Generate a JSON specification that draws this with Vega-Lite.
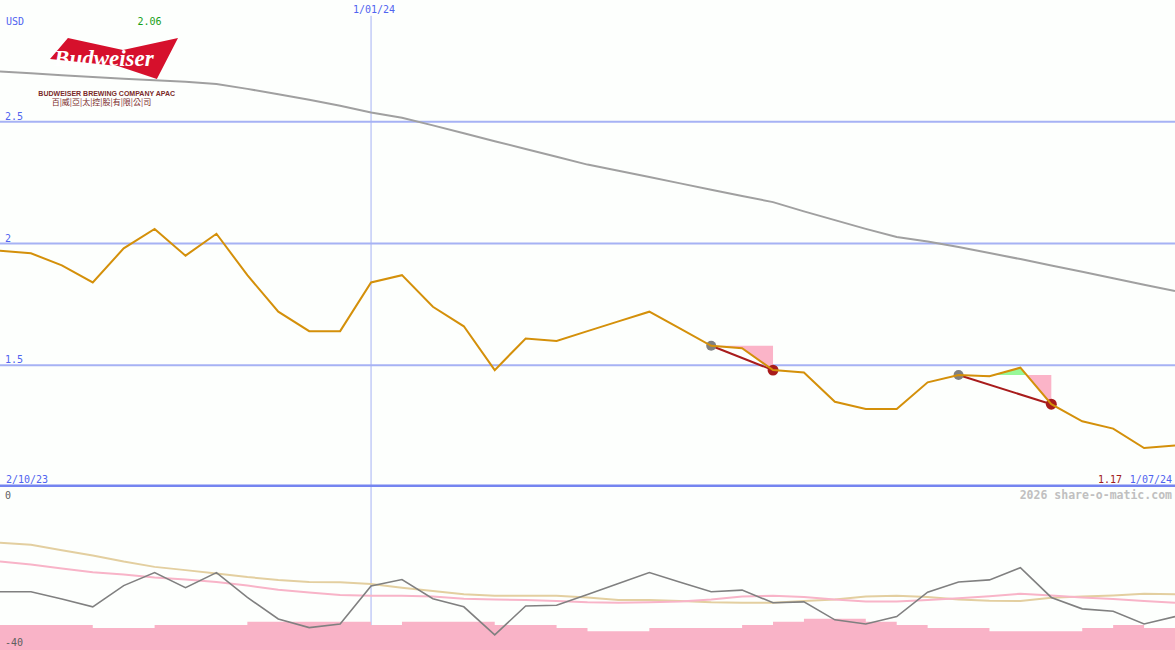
{
  "$schema": "https://vega.github.io/schema/vega-lite/v6.json",
  "background": "#fdfffd",
  "padding": 0,
  "spacing": 0,
  "bounds": "flush",
  "config": {
    "view": {"stroke": null},
    "text": {"font": "DejaVu Sans Mono", "fontSize": 10}
  },
  "datasets": {
    "weeks": [
      {"i": 0, "date": "2023-10-02", "price": 1.97, "ma": 2.706, "osc": -25.7, "s1": -13.7, "s2": -18.3, "vol": 8},
      {"i": 1, "date": "2023-10-09", "price": 1.96, "ma": 2.699, "osc": -25.7, "s1": -14.2, "s2": -19.0, "vol": 8},
      {"i": 2, "date": "2023-10-16", "price": 1.91, "ma": 2.691, "osc": -27.5, "s1": -15.5, "s2": -20.0, "vol": 8},
      {"i": 3, "date": "2023-10-23", "price": 1.84, "ma": 2.684, "osc": -29.4, "s1": -16.8, "s2": -20.9, "vol": 7},
      {"i": 4, "date": "2023-10-30", "price": 1.98, "ma": 2.677, "osc": -24.2, "s1": -18.3, "s2": -21.5, "vol": 7},
      {"i": 5, "date": "2023-11-06", "price": 2.06, "ma": 2.670, "osc": -21.0, "s1": -19.6, "s2": -22.2, "vol": 8},
      {"i": 6, "date": "2023-11-13", "price": 1.95, "ma": 2.664, "osc": -24.7, "s1": -20.4, "s2": -22.7, "vol": 8},
      {"i": 7, "date": "2023-11-20", "price": 2.04, "ma": 2.655, "osc": -21.0, "s1": -21.2, "s2": -23.3, "vol": 8},
      {"i": 8, "date": "2023-11-27", "price": 1.87, "ma": 2.635, "osc": -27.1, "s1": -22.1, "s2": -24.2, "vol": 9},
      {"i": 9, "date": "2023-12-04", "price": 1.72, "ma": 2.613, "osc": -32.4, "s1": -22.8, "s2": -25.2, "vol": 9},
      {"i": 10, "date": "2023-12-11", "price": 1.64, "ma": 2.590, "osc": -34.5, "s1": -23.3, "s2": -25.9, "vol": 9},
      {"i": 11, "date": "2023-12-18", "price": 1.64, "ma": 2.566, "osc": -33.6, "s1": -23.4, "s2": -26.5, "vol": 9},
      {"i": 12, "date": "2024-01-01", "price": 1.84, "ma": 2.538, "osc": -24.3, "s1": -23.8, "s2": -26.7, "vol": 8},
      {"i": 13, "date": "2024-01-08", "price": 1.87, "ma": 2.516, "osc": -22.7, "s1": -24.7, "s2": -26.7, "vol": 9},
      {"i": 14, "date": "2024-01-15", "price": 1.74, "ma": 2.485, "osc": -27.4, "s1": -25.5, "s2": -26.9, "vol": 9},
      {"i": 15, "date": "2024-01-22", "price": 1.66, "ma": 2.453, "osc": -29.4, "s1": -26.3, "s2": -27.4, "vol": 9},
      {"i": 16, "date": "2024-01-29", "price": 1.48, "ma": 2.420, "osc": -36.3, "s1": -26.7, "s2": -27.6, "vol": 8},
      {"i": 17, "date": "2024-02-05", "price": 1.61, "ma": 2.388, "osc": -29.2, "s1": -26.7, "s2": -27.7, "vol": 8},
      {"i": 18, "date": "2024-02-12", "price": 1.60, "ma": 2.356, "osc": -29.0, "s1": -26.7, "s2": -28.0, "vol": 7},
      {"i": 19, "date": "2024-02-19", "price": 1.64, "ma": 2.324, "osc": -26.4, "s1": -27.1, "s2": -28.3, "vol": 6},
      {"i": 20, "date": "2024-02-26", "price": 1.68, "ma": 2.299, "osc": -23.7, "s1": -27.7, "s2": -28.4, "vol": 6},
      {"i": 21, "date": "2024-03-04", "price": 1.72, "ma": 2.273, "osc": -21.0, "s1": -27.7, "s2": -28.3, "vol": 7},
      {"i": 22, "date": "2024-03-11", "price": 1.65, "ma": 2.247, "osc": -23.4, "s1": -28.0, "s2": -28.1, "vol": 7},
      {"i": 23, "date": "2024-03-18", "price": 1.58, "ma": 2.221, "osc": -25.7, "s1": -28.3, "s2": -27.6, "vol": 7},
      {"i": 24, "date": "2024-03-25", "price": 1.57, "ma": 2.195, "osc": -25.3, "s1": -28.4, "s2": -26.9, "vol": 8},
      {"i": 25, "date": "2024-04-01", "price": 1.48, "ma": 2.170, "osc": -28.4, "s1": -28.4, "s2": -26.7, "vol": 9},
      {"i": 26, "date": "2024-04-08", "price": 1.47, "ma": 2.132, "osc": -28.2, "s1": -28.0, "s2": -27.0, "vol": 10},
      {"i": 27, "date": "2024-04-15", "price": 1.35, "ma": 2.096, "osc": -32.6, "s1": -27.6, "s2": -27.6, "vol": 10},
      {"i": 28, "date": "2024-04-22", "price": 1.32, "ma": 2.060, "osc": -33.6, "s1": -26.9, "s2": -28.1, "vol": 9},
      {"i": 29, "date": "2024-04-29", "price": 1.32, "ma": 2.027, "osc": -31.8, "s1": -26.7, "s2": -28.1, "vol": 8},
      {"i": 30, "date": "2024-05-06", "price": 1.43, "ma": 2.008, "osc": -25.8, "s1": -27.0, "s2": -27.7, "vol": 7},
      {"i": 31, "date": "2024-05-13", "price": 1.46, "ma": 1.986, "osc": -23.3, "s1": -27.6, "s2": -27.3, "vol": 7},
      {"i": 32, "date": "2024-05-20", "price": 1.455, "ma": 1.961, "osc": -22.8, "s1": -27.9, "s2": -26.8, "vol": 6},
      {"i": 33, "date": "2024-05-27", "price": 1.49, "ma": 1.936, "osc": -19.8, "s1": -28.0, "s2": -26.2, "vol": 6},
      {"i": 34, "date": "2024-06-03", "price": 1.34, "ma": 1.910, "osc": -27.1, "s1": -27.2, "s2": -26.6, "vol": 6},
      {"i": 35, "date": "2024-06-10", "price": 1.27, "ma": 1.884, "osc": -29.9, "s1": -26.9, "s2": -27.1, "vol": 7},
      {"i": 36, "date": "2024-06-17", "price": 1.24, "ma": 1.857, "osc": -30.5, "s1": -26.6, "s2": -27.5, "vol": 8},
      {"i": 37, "date": "2024-06-24", "price": 1.16, "ma": 1.831, "osc": -33.6, "s1": -26.2, "s2": -28.0, "vol": 7},
      {"i": 38, "date": "2024-07-01", "price": 1.17, "ma": 1.805, "osc": -31.8, "s1": -26.3, "s2": -28.4, "vol": 7}
    ]
  },
  "vconcat": [
    {
      "width": 1175,
      "height": 487,
      "layer": [
        {
          "data": {"values": [{"i": 3.687, "p": 2.76}]},
          "mark": {"type": "point", "clip": true, "shape": "M-0.72,-0.32L0.14,-0.13L1,-0.32L0.67,0.32L0.06,0.12L-1,0.01Z", "filled": true, "color": "#d6102c", "opacity": 1, "size": 16384, "strokeWidth": 0},
          "encoding": {
            "x": {"field": "i", "type": "quantitative", "scale": {"domain": [0, 38], "nice": false, "zero": false}, "axis": null},
            "y": {"field": "p", "type": "quantitative", "scale": {"domain": [1, 3], "nice": false, "zero": false}, "axis": null}
          }
        },
        {
          "data": {"values": [{"i": 3.36, "p": 2.727, "t": "Budweiser"}]},
          "mark": {"type": "text", "font": "Liberation Serif", "fontWeight": "bold", "fontStyle": "italic", "fontSize": 23, "color": "#ffffff", "align": "center", "baseline": "alphabetic"},
          "encoding": {
            "x": {"field": "i", "type": "quantitative", "scale": {"domain": [0, 38], "nice": false, "zero": false}, "axis": null},
            "y": {"field": "p", "type": "quantitative", "scale": {"domain": [1, 3], "nice": false, "zero": false}, "axis": null},
            "text": {"field": "t"}
          }
        },
        {
          "data": {"values": [{"i": 3.45, "p": 2.615, "t": "BUDWEISER BREWING COMPANY APAC"}]},
          "mark": {"type": "text", "font": "Liberation Sans", "fontWeight": "bold", "fontSize": 7, "color": "#7a2a2a", "align": "center", "baseline": "middle"},
          "encoding": {
            "x": {"field": "i", "type": "quantitative", "scale": {"domain": [0, 38], "nice": false, "zero": false}, "axis": null},
            "y": {"field": "p", "type": "quantitative", "scale": {"domain": [1, 3], "nice": false, "zero": false}, "axis": null},
            "text": {"field": "t"}
          }
        },
        {
          "data": {"values": [{"i": 3.28, "p": 2.577, "t": "百|威|亞|太|控|股|有|限|公|司"}]},
          "mark": {"type": "text", "font": "Noto Sans CJK TC", "fontSize": 8, "color": "#7a2a2a", "align": "center", "baseline": "middle"},
          "encoding": {
            "x": {"field": "i", "type": "quantitative", "scale": {"domain": [0, 38], "nice": false, "zero": false}, "axis": null},
            "y": {"field": "p", "type": "quantitative", "scale": {"domain": [1, 3], "nice": false, "zero": false}, "axis": null},
            "text": {"field": "t"}
          }
        },
        {
          "data": {"values": [{"p": 2.5}, {"p": 2.0}, {"p": 1.5}]},
          "mark": {"type": "rule", "clip": true, "color": "#a6b2f4", "strokeWidth": 2},
          "encoding": {
            "y": {"field": "p", "type": "quantitative", "scale": {"domain": [1, 3], "nice": false, "zero": false}, "axis": null}
          }
        },
        {
          "data": {"values": [{"i": 12, "p": 1.0, "p2": 2.935}]},
          "mark": {"type": "rule", "clip": true, "color": "#a6b2f4", "strokeWidth": 1},
          "encoding": {
            "x": {"field": "i", "type": "quantitative", "scale": {"domain": [0, 38], "nice": false, "zero": false}, "axis": null},
            "y": {"field": "p", "type": "quantitative", "scale": {"domain": [1, 3], "nice": false, "zero": false}, "axis": null},
            "y2": {"field": "p2"}
          }
        },
        {
          "data": {"name": "weeks"},
          "mark": {"type": "line", "clip": true, "color": "#a0a0a0", "strokeWidth": 2},
          "encoding": {
            "x": {"field": "i", "type": "quantitative", "scale": {"domain": [0, 38], "nice": false, "zero": false}, "axis": null},
            "y": {"field": "ma", "type": "quantitative", "scale": {"domain": [1, 3], "nice": false, "zero": false}, "axis": null}
          }
        },
        {
          "data": {"values": [
            {"seg": "a", "i": 23, "lo": 1.58, "hi": 1.58},
            {"seg": "a", "i": 24, "lo": 1.57, "hi": 1.58},
            {"seg": "a", "i": 25, "lo": 1.48, "hi": 1.58},
            {"seg": "b", "i": 31, "lo": 1.46, "hi": 1.46},
            {"seg": "b", "i": 32, "lo": 1.455, "hi": 1.46},
            {"seg": "b", "i": 32.14, "lo": 1.46, "hi": 1.46},
            {"seg": "d", "i": 33.2, "lo": 1.46, "hi": 1.46},
            {"seg": "d", "i": 34, "lo": 1.34, "hi": 1.46}
          ]},
          "mark": {"type": "area", "clip": true, "color": "#fbb4c8", "opacity": 1},
          "encoding": {
            "x": {"field": "i", "type": "quantitative", "scale": {"domain": [0, 38], "nice": false, "zero": false}, "axis": null},
            "y": {"field": "lo", "type": "quantitative", "scale": {"domain": [1, 3], "nice": false, "zero": false}, "axis": null},
            "y2": {"field": "hi"},
            "detail": {"field": "seg"}
          }
        },
        {
          "data": {"values": [
            {"seg": "c", "i": 32.14, "lo": 1.46, "hi": 1.46},
            {"seg": "c", "i": 33, "lo": 1.46, "hi": 1.49},
            {"seg": "c", "i": 33.2, "lo": 1.46, "hi": 1.46}
          ]},
          "mark": {"type": "area", "clip": true, "color": "#98f898", "opacity": 1},
          "encoding": {
            "x": {"field": "i", "type": "quantitative", "scale": {"domain": [0, 38], "nice": false, "zero": false}, "axis": null},
            "y": {"field": "lo", "type": "quantitative", "scale": {"domain": [1, 3], "nice": false, "zero": false}, "axis": null},
            "y2": {"field": "hi"},
            "detail": {"field": "seg"}
          }
        },
        {
          "data": {"values": [
            {"seg": "a", "i": 23, "p": 1.58},
            {"seg": "a", "i": 25, "p": 1.48},
            {"seg": "b", "i": 31, "p": 1.46},
            {"seg": "b", "i": 34, "p": 1.34}
          ]},
          "mark": {"type": "line", "clip": true, "color": "#a81c1c", "strokeWidth": 2},
          "encoding": {
            "x": {"field": "i", "type": "quantitative", "scale": {"domain": [0, 38], "nice": false, "zero": false}, "axis": null},
            "y": {"field": "p", "type": "quantitative", "scale": {"domain": [1, 3], "nice": false, "zero": false}, "axis": null},
            "detail": {"field": "seg"}
          }
        },
        {
          "data": {"values": [{"i": 23, "p": 1.58}, {"i": 31, "p": 1.46}]},
          "mark": {"type": "point", "shape": "circle", "filled": true, "color": "#808080", "opacity": 1, "size": 100},
          "encoding": {
            "x": {"field": "i", "type": "quantitative", "scale": {"domain": [0, 38], "nice": false, "zero": false}, "axis": null},
            "y": {"field": "p", "type": "quantitative", "scale": {"domain": [1, 3], "nice": false, "zero": false}, "axis": null}
          }
        },
        {
          "data": {"values": [{"i": 25, "p": 1.48}, {"i": 34, "p": 1.34}]},
          "mark": {"type": "point", "shape": "circle", "filled": true, "color": "#a81c1c", "opacity": 1, "size": 120},
          "encoding": {
            "x": {"field": "i", "type": "quantitative", "scale": {"domain": [0, 38], "nice": false, "zero": false}, "axis": null},
            "y": {"field": "p", "type": "quantitative", "scale": {"domain": [1, 3], "nice": false, "zero": false}, "axis": null}
          }
        },
        {
          "data": {"name": "weeks"},
          "mark": {"type": "line", "clip": true, "color": "#d4900a", "strokeWidth": 2},
          "encoding": {
            "x": {"field": "i", "type": "quantitative", "scale": {"domain": [0, 38], "nice": false, "zero": false}, "axis": null},
            "y": {"field": "price", "type": "quantitative", "scale": {"domain": [1, 3], "nice": false, "zero": false}, "axis": null}
          }
        },
        {
          "data": {"values": [{"p": 1.004}]},
          "mark": {"type": "rule", "clip": true, "color": "#7484f0", "strokeWidth": 3},
          "encoding": {
            "y": {"field": "p", "type": "quantitative", "scale": {"domain": [1, 3], "nice": false, "zero": false}, "axis": null}
          }
        },
        {
          "data": {"values": [{"i": 0, "p": 2.5, "t": "2.5"}, {"i": 0, "p": 2.0, "t": "2"}, {"i": 0, "p": 1.5, "t": "1.5"}]},
          "mark": {"type": "text", "color": "#5064f0", "align": "left", "baseline": "alphabetic", "dx": 5, "dy": -2},
          "encoding": {
            "x": {"field": "i", "type": "quantitative", "scale": {"domain": [0, 38], "nice": false, "zero": false}, "axis": null},
            "y": {"field": "p", "type": "quantitative", "scale": {"domain": [1, 3], "nice": false, "zero": false}, "axis": null},
            "text": {"field": "t"}
          }
        },
        {
          "data": {"values": [{"i": 0, "p": 2.897, "t": "USD"}, {"i": 0, "p": 1.0164, "t": "2/10/23"}]},
          "mark": {"type": "text", "color": "#5064f0", "align": "left", "baseline": "alphabetic", "dx": 6},
          "encoding": {
            "x": {"field": "i", "type": "quantitative", "scale": {"domain": [0, 38], "nice": false, "zero": false}, "axis": null},
            "y": {"field": "p", "type": "quantitative", "scale": {"domain": [1, 3], "nice": false, "zero": false}, "axis": null},
            "text": {"field": "t"}
          }
        },
        {
          "data": {"values": [{"i": 12, "p": 2.947, "t": "1/01/24"}]},
          "mark": {"type": "text", "color": "#5064f0", "align": "center", "baseline": "alphabetic", "dx": 3},
          "encoding": {
            "x": {"field": "i", "type": "quantitative", "scale": {"domain": [0, 38], "nice": false, "zero": false}, "axis": null},
            "y": {"field": "p", "type": "quantitative", "scale": {"domain": [1, 3], "nice": false, "zero": false}, "axis": null},
            "text": {"field": "t"}
          }
        },
        {
          "data": {"values": [{"i": 38, "p": 1.0164, "t": "1/07/24"}]},
          "mark": {"type": "text", "color": "#5064f0", "align": "right", "baseline": "alphabetic", "dx": -3},
          "encoding": {
            "x": {"field": "i", "type": "quantitative", "scale": {"domain": [0, 38], "nice": false, "zero": false}, "axis": null},
            "y": {"field": "p", "type": "quantitative", "scale": {"domain": [1, 3], "nice": false, "zero": false}, "axis": null},
            "text": {"field": "t"}
          }
        },
        {
          "data": {"values": [{"i": 38, "p": 1.0164, "t": "1.17"}]},
          "mark": {"type": "text", "color": "#a01c1c", "align": "right", "baseline": "alphabetic", "dx": -53},
          "encoding": {
            "x": {"field": "i", "type": "quantitative", "scale": {"domain": [0, 38], "nice": false, "zero": false}, "axis": null},
            "y": {"field": "p", "type": "quantitative", "scale": {"domain": [1, 3], "nice": false, "zero": false}, "axis": null},
            "text": {"field": "t"}
          }
        },
        {
          "data": {"values": [{"i": 5, "p": 2.897, "t": "2.06"}]},
          "mark": {"type": "text", "color": "#18a018", "align": "center", "baseline": "alphabetic", "dx": -5},
          "encoding": {
            "x": {"field": "i", "type": "quantitative", "scale": {"domain": [0, 38], "nice": false, "zero": false}, "axis": null},
            "y": {"field": "p", "type": "quantitative", "scale": {"domain": [1, 3], "nice": false, "zero": false}, "axis": null},
            "text": {"field": "t"}
          }
        }
      ]
    },
    {
      "width": 1175,
      "height": 163,
      "resolve": {"scale": {"y": "independent"}},
      "layer": [
        {
          "data": {"values": [{"i": 12, "v": -40, "v2": 0}]},
          "mark": {"type": "rule", "clip": true, "color": "#a6b2f4", "strokeWidth": 1},
          "encoding": {
            "x": {"field": "i", "type": "quantitative", "scale": {"domain": [0, 38], "nice": false, "zero": false}, "axis": null},
            "y": {"field": "v", "type": "quantitative", "scale": {"domain": [-40, 0], "nice": false, "zero": false}, "axis": null},
            "y2": {"field": "v2"}
          }
        },
        {
          "data": {"name": "weeks"},
          "mark": {"type": "area", "clip": true, "interpolate": "step-after", "color": "#f9b3c7", "opacity": 1},
          "encoding": {
            "x": {"field": "i", "type": "quantitative", "scale": {"domain": [0, 38], "nice": false, "zero": false}, "axis": null},
            "y": {"field": "vol", "type": "quantitative", "scale": {"domain": [0, 52], "nice": false, "zero": true}, "axis": null}
          }
        },
        {
          "data": {"name": "weeks"},
          "mark": {"type": "line", "clip": true, "color": "#e3cfa0", "strokeWidth": 2},
          "encoding": {
            "x": {"field": "i", "type": "quantitative", "scale": {"domain": [0, 38], "nice": false, "zero": false}, "axis": null},
            "y": {"field": "s1", "type": "quantitative", "scale": {"domain": [-40, 0], "nice": false, "zero": false}, "axis": null}
          }
        },
        {
          "data": {"name": "weeks"},
          "mark": {"type": "line", "clip": true, "color": "#f8b4c8", "strokeWidth": 2},
          "encoding": {
            "x": {"field": "i", "type": "quantitative", "scale": {"domain": [0, 38], "nice": false, "zero": false}, "axis": null},
            "y": {"field": "s2", "type": "quantitative", "scale": {"domain": [-40, 0], "nice": false, "zero": false}, "axis": null}
          }
        },
        {
          "data": {"name": "weeks"},
          "mark": {"type": "line", "clip": true, "color": "#808080", "strokeWidth": 1.6},
          "encoding": {
            "x": {"field": "i", "type": "quantitative", "scale": {"domain": [0, 38], "nice": false, "zero": false}, "axis": null},
            "y": {"field": "osc", "type": "quantitative", "scale": {"domain": [-40, 0], "nice": false, "zero": false}, "axis": null}
          }
        },
        {
          "data": {"values": [{"i": 0, "v": -2.94, "t": "0"}, {"i": 0, "v": -39.0, "t": "-40"}]},
          "mark": {"type": "text", "color": "#606060", "align": "left", "baseline": "alphabetic", "dx": 5},
          "encoding": {
            "x": {"field": "i", "type": "quantitative", "scale": {"domain": [0, 38], "nice": false, "zero": false}, "axis": null},
            "y": {"field": "v", "type": "quantitative", "scale": {"domain": [-40, 0], "nice": false, "zero": false}, "axis": null},
            "text": {"field": "t"}
          }
        },
        {
          "data": {"values": [{"i": 38, "v": -2.94, "t": "2026 share-o-matic.com"}]},
          "mark": {"type": "text", "color": "#c0c0c0", "fontWeight": "bold", "fontSize": 11.5, "align": "right", "baseline": "alphabetic", "dx": -3},
          "encoding": {
            "x": {"field": "i", "type": "quantitative", "scale": {"domain": [0, 38], "nice": false, "zero": false}, "axis": null},
            "y": {"field": "v", "type": "quantitative", "scale": {"domain": [-40, 0], "nice": false, "zero": false}, "axis": null},
            "text": {"field": "t"}
          }
        }
      ]
    }
  ]
}
